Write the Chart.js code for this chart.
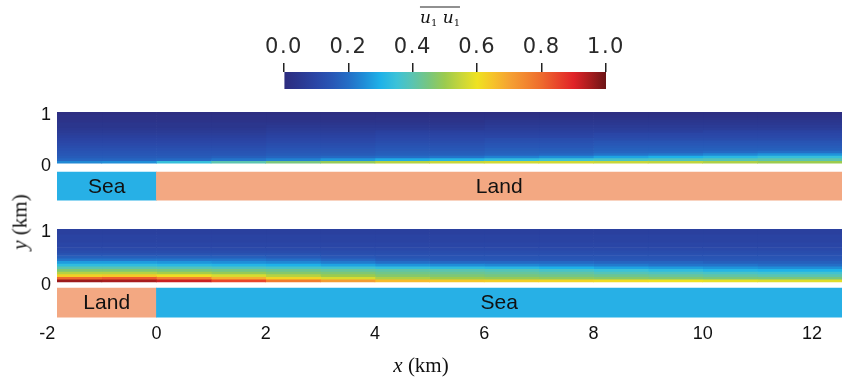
<!DOCTYPE html>
<html>
<head>
<meta charset="utf-8">
<script src="https://cdn.jsdelivr.net/npm/chart.js@4.4.1/dist/chart.umd.min.js"></script>
<style>
  body { margin: 0; background: #fff; width: 842px; height: 382px; position: relative; overflow: hidden; }
  canvas { position: absolute; left: 0; }
  .txt { position: absolute; color: #111; white-space: nowrap; transform: translate(-50%, -50%); }
  #cbar-title { left: 440px; top: 17px; font: italic 17px "DejaVu Serif", "Liberation Serif", serif; line-height: 1; }
  #cbar-title span { display: inline-block; border-top: 1.5px solid #222; padding-top: 1px; }
  #cbar-title sub { font-size: 10px; font-style: normal; vertical-align: -3px; }
  #x-title { left: 421px; top: 365px; font: 21px "Liberation Serif", serif; }
  #y-title { left: 20px; top: 222px; font: 21px "Liberation Serif", serif; transform: translate(-50%, -50%) rotate(-90deg); }
</style>
</head>
<body>
<canvas id="cbar" width="842" height="100" style="top:0"></canvas>
<canvas id="top-panel" width="842" height="109" style="top:95px"></canvas>
<canvas id="bottom-panel" width="842" height="170" style="top:212px"></canvas>
<div class="txt" id="cbar-title"><span>u<sub>1</sub> u<sub>1</sub></span></div>
<div class="txt" id="x-title"><i>x</i> (km)</div>
<div class="txt" id="y-title"><i>y</i> (km)</div>
<script>
// Grid of the field: column edges along x (km) and row centres along y (km)
const xEdges = [-1.82, -1, 0, 1, 2, 3, 4, 5, 6, 7, 8, 9, 10, 11, 12.55];
const yRows = [0.025, 0.075, 0.125, 0.175, 0.225, 0.275, 0.325, 0.375, 0.425, 0.475,
               0.525, 0.575, 0.625, 0.675, 0.725, 0.775, 0.825, 0.875, 0.925, 0.975];

// u1u1 profiles, one per column, from the ground up - sea to land (top panel)
const seaToLand = [
  [0.24, 0.18, 0.16, 0.15, 0.14, 0.13, 0.12, 0.11, 0.10, 0.09, 0.08, 0.07, 0.06, 0.05, 0.04, 0.04, 0.03, 0.02, 0.02, 0.01],
  [0.25, 0.18, 0.16, 0.15, 0.14, 0.13, 0.12, 0.11, 0.10, 0.09, 0.08, 0.07, 0.06, 0.05, 0.04, 0.04, 0.03, 0.02, 0.02, 0.01],
  [0.34, 0.19, 0.16, 0.15, 0.14, 0.13, 0.12, 0.11, 0.10, 0.09, 0.08, 0.07, 0.06, 0.05, 0.04, 0.04, 0.03, 0.02, 0.02, 0.01],
  [0.40, 0.21, 0.17, 0.15, 0.14, 0.13, 0.12, 0.11, 0.10, 0.09, 0.08, 0.07, 0.06, 0.05, 0.04, 0.04, 0.03, 0.02, 0.02, 0.01],
  [0.45, 0.23, 0.18, 0.16, 0.15, 0.14, 0.13, 0.12, 0.11, 0.10, 0.09, 0.08, 0.07, 0.06, 0.05, 0.04, 0.03, 0.02, 0.02, 0.01],
  [0.49, 0.26, 0.19, 0.16, 0.15, 0.14, 0.13, 0.12, 0.11, 0.10, 0.09, 0.08, 0.07, 0.06, 0.05, 0.04, 0.03, 0.02, 0.02, 0.01],
  [0.53, 0.29, 0.20, 0.17, 0.16, 0.15, 0.14, 0.13, 0.12, 0.11, 0.10, 0.09, 0.08, 0.06, 0.05, 0.04, 0.03, 0.03, 0.02, 0.01],
  [0.55, 0.31, 0.21, 0.17, 0.16, 0.15, 0.14, 0.13, 0.12, 0.11, 0.10, 0.09, 0.08, 0.06, 0.05, 0.04, 0.03, 0.03, 0.02, 0.01],
  [0.56, 0.33, 0.23, 0.18, 0.17, 0.16, 0.15, 0.14, 0.13, 0.12, 0.10, 0.09, 0.08, 0.07, 0.06, 0.05, 0.04, 0.03, 0.02, 0.01],
  [0.56, 0.35, 0.25, 0.19, 0.17, 0.16, 0.15, 0.14, 0.13, 0.12, 0.10, 0.09, 0.08, 0.07, 0.06, 0.05, 0.04, 0.03, 0.02, 0.01],
  [0.55, 0.37, 0.28, 0.21, 0.18, 0.17, 0.16, 0.15, 0.14, 0.12, 0.11, 0.10, 0.08, 0.07, 0.06, 0.05, 0.04, 0.03, 0.02, 0.01],
  [0.54, 0.38, 0.30, 0.22, 0.18, 0.17, 0.16, 0.15, 0.14, 0.12, 0.11, 0.10, 0.08, 0.07, 0.06, 0.05, 0.04, 0.03, 0.02, 0.01],
  [0.52, 0.39, 0.32, 0.24, 0.19, 0.17, 0.16, 0.15, 0.14, 0.12, 0.11, 0.10, 0.09, 0.07, 0.06, 0.05, 0.04, 0.03, 0.02, 0.01],
  [0.50, 0.40, 0.34, 0.26, 0.20, 0.17, 0.16, 0.15, 0.14, 0.12, 0.11, 0.10, 0.09, 0.07, 0.06, 0.05, 0.04, 0.03, 0.02, 0.01]
];

// land to sea (bottom panel)
const landToSea = [
  [0.96, 0.80, 0.63, 0.53, 0.46, 0.40, 0.33, 0.27, 0.21, 0.17, 0.14, 0.12, 0.11, 0.10, 0.10, 0.09, 0.09, 0.09, 0.08, 0.08],
  [0.95, 0.82, 0.64, 0.53, 0.46, 0.40, 0.33, 0.27, 0.21, 0.17, 0.14, 0.12, 0.11, 0.10, 0.10, 0.09, 0.09, 0.09, 0.08, 0.08],
  [0.92, 0.76, 0.61, 0.51, 0.45, 0.39, 0.32, 0.26, 0.21, 0.17, 0.14, 0.12, 0.11, 0.10, 0.10, 0.09, 0.09, 0.09, 0.08, 0.08],
  [0.85, 0.68, 0.57, 0.49, 0.44, 0.38, 0.31, 0.25, 0.21, 0.17, 0.14, 0.12, 0.11, 0.10, 0.10, 0.09, 0.09, 0.09, 0.08, 0.08],
  [0.77, 0.62, 0.53, 0.47, 0.43, 0.37, 0.30, 0.24, 0.20, 0.16, 0.14, 0.12, 0.11, 0.10, 0.10, 0.09, 0.09, 0.09, 0.08, 0.08],
  [0.71, 0.57, 0.50, 0.46, 0.42, 0.36, 0.28, 0.22, 0.18, 0.15, 0.13, 0.12, 0.11, 0.10, 0.10, 0.09, 0.09, 0.09, 0.08, 0.08],
  [0.66, 0.52, 0.47, 0.44, 0.41, 0.34, 0.26, 0.20, 0.16, 0.14, 0.13, 0.12, 0.11, 0.10, 0.10, 0.09, 0.09, 0.09, 0.08, 0.08],
  [0.64, 0.50, 0.46, 0.43, 0.40, 0.33, 0.25, 0.19, 0.15, 0.14, 0.13, 0.12, 0.11, 0.10, 0.10, 0.09, 0.09, 0.09, 0.08, 0.08],
  [0.63, 0.49, 0.45, 0.42, 0.39, 0.32, 0.24, 0.19, 0.15, 0.14, 0.13, 0.12, 0.11, 0.10, 0.10, 0.09, 0.09, 0.09, 0.08, 0.08],
  [0.62, 0.48, 0.44, 0.41, 0.37, 0.30, 0.23, 0.19, 0.15, 0.14, 0.13, 0.12, 0.11, 0.10, 0.10, 0.09, 0.09, 0.09, 0.08, 0.08],
  [0.61, 0.47, 0.43, 0.39, 0.35, 0.28, 0.22, 0.18, 0.15, 0.14, 0.13, 0.12, 0.11, 0.10, 0.10, 0.09, 0.09, 0.09, 0.08, 0.08],
  [0.60, 0.46, 0.42, 0.38, 0.33, 0.27, 0.21, 0.18, 0.15, 0.14, 0.13, 0.12, 0.11, 0.10, 0.10, 0.09, 0.09, 0.09, 0.08, 0.08],
  [0.59, 0.45, 0.41, 0.37, 0.31, 0.26, 0.21, 0.17, 0.15, 0.14, 0.13, 0.12, 0.11, 0.10, 0.10, 0.09, 0.09, 0.09, 0.08, 0.08],
  [0.58, 0.45, 0.40, 0.36, 0.30, 0.25, 0.20, 0.17, 0.15, 0.14, 0.13, 0.12, 0.11, 0.10, 0.10, 0.09, 0.09, 0.09, 0.08, 0.08]
];

// surface strips under each panel
const stripRanges = [[-1.82, 0], [0, 12.55]];
const topStripNames = ['Sea', 'Land'];
const bottomStripNames = ['Land', 'Sea'];

// tick labels
const xTicks = [-2, 0, 2, 4, 6, 8, 10, 12];
const yTicks = [0, 1];
const cbarTicks = [0, 0.2, 0.4, 0.6, 0.8, 1.0];

const seaColor = '#27b0e6';
const landColor = '#f3a882';

// colour map of the colour bar
const cmapStops = [
  [0.00, [45, 44, 126]], [0.05, [43, 56, 145]], [0.10, [42, 70, 166]], [0.15, [40, 87, 182]],
  [0.20, [36, 110, 198]], [0.25, [31, 142, 216]], [0.30, [31, 178, 232]], [0.35, [60, 194, 216]],
  [0.40, [91, 196, 176]], [0.45, [120, 198, 126]], [0.50, [156, 203, 78]], [0.55, [200, 214, 58]],
  [0.60, [239, 226, 33]], [0.65, [246, 194, 42]], [0.70, [245, 162, 51]], [0.75, [242, 135, 48]],
  [0.80, [238, 106, 45]], [0.85, [232, 69, 43]], [0.90, [224, 35, 40]], [0.95, [168, 28, 30]],
  [1.00, [107, 20, 22]]
];

function cmap(v) {
  v = Math.min(1, Math.max(0, v));
  for (let i = 1; i < cmapStops.length; i++) {
    if (v <= cmapStops[i][0]) {
      const [p0, c0] = cmapStops[i - 1];
      const [p1, c1] = cmapStops[i];
      const t = (v - p0) / (p1 - p0);
      const c = c0.map((a, k) => Math.round(a + (c1[k] - a) * t));
      return 'rgb(' + c.join(',') + ')';
    }
  }
  return 'rgb(' + cmapStops[cmapStops.length - 1][1].join(',') + ')';
}

const tickFont = { family: '"Liberation Sans", Arial, sans-serif', size: 18 };

function heatSets(profiles) {
  return profiles.map((col, c) => ({
    data: yRows.map(y => ({ y: y, x: [xEdges[c], xEdges[c + 1]] })),
    backgroundColor: col.map(cmap),
    borderWidth: 0,
    barPercentage: 1,
    categoryPercentage: 1,
    grouped: false
  }));
}

const stripLabels = {
  id: 'stripLabels',
  afterDatasetsDraw(chart, args, opts) {
    const meta = chart.getDatasetMeta(chart.data.datasets.length - 1);
    const ctx = chart.ctx;
    ctx.save();
    ctx.font = '21px "Liberation Sans", Arial, sans-serif';
    ctx.fillStyle = '#111';
    ctx.textAlign = 'center';
    ctx.textBaseline = 'middle';
    meta.data.forEach((bar, i) => {
      const p = bar.getCenterPoint();
      ctx.fillText(opts.names[i], p.x, p.y + 1);
    });
    ctx.restore();
  }
};

function panel(id, profiles, names, stripY, stripPx, yMin, showX) {
  const datasets = heatSets(profiles);
  datasets.push({
    data: stripRanges.map(r => ({ y: stripY, x: r })),
    backgroundColor: names.map(n => n === 'Sea' ? seaColor : landColor),
    borderWidth: 0,
    barThickness: stripPx,
    grouped: false
  });
  return new Chart(document.getElementById(id), {
    type: 'bar',
    data: { datasets: datasets },
    plugins: [stripLabels],
    options: {
      indexAxis: 'y',
      responsive: false,
      animation: false,
      layout: { padding: { top: 17, left: 0, right: 0, bottom: 0 } },
      plugins: {
        legend: { display: false },
        tooltip: { enabled: false },
        stripLabels: { names: names }
      },
      scales: {
        x: {
          type: 'linear',
          min: -1.82,
          max: 12.55,
          display: showX,
          grid: { display: false, drawTicks: false },
          border: { display: false },
          afterBuildTicks: s => { s.ticks = xTicks.map(v => ({ value: v })); },
          afterFit: s => { if (showX) s.height = 63; },
          ticks: { autoSkip: false, maxRotation: 0, padding: 4, color: '#111', font: tickFont }
        },
        y: {
          type: 'linear',
          min: yMin,
          max: 1,
          offset: false,
          grid: { display: false, drawTicks: false, offset: false },
          border: { display: false },
          afterBuildTicks: s => { s.ticks = yTicks.map(v => ({ value: v })); },
          afterFit: s => { s.width = 57; s.paddingTop = 0; s.paddingBottom = 0; },
          ticks: { padding: 6, labelOffset: 3, color: '#111', font: tickFont }
        }
      }
    }
  });
}

// top: sea -> land, bottom: land -> sea
panel('top-panel', seaToLand, topStripNames, -0.45, 28, -0.8, false);
panel('bottom-panel', landToSea, bottomStripNames, -0.39, 29, -0.7, true);

// colour bar
new Chart(document.getElementById('cbar'), {
  type: 'bar',
  data: {
    labels: [''],
    datasets: [{
      data: [[0, 1]],
      borderWidth: 0,
      barPercentage: 1,
      categoryPercentage: 1,
      backgroundColor: c => {
        const chart = c.chart;
        if (!chart.chartArea) return null;
        const sx = chart.scales.x;
        const g = chart.ctx.createLinearGradient(sx.getPixelForValue(0), 0, sx.getPixelForValue(1), 0);
        cmapStops.forEach(s => g.addColorStop(s[0], 'rgb(' + s[1].join(',') + ')'));
        return g;
      }
    }]
  },
  plugins: [{
    id: 'wideDigits',
    beforeDraw: chart => { chart.ctx.letterSpacing = '1.5px'; }
  }],
  options: {
    indexAxis: 'y',
    responsive: false,
    animation: false,
    layout: { padding: { left: 284, right: 236, top: 0, bottom: 11 } },
    plugins: { legend: { display: false }, tooltip: { enabled: false } },
    scales: {
      x: {
        type: 'linear',
        position: 'top',
        min: 0,
        max: 1,
        afterBuildTicks: s => { s.ticks = cbarTicks.map(v => ({ value: v })); },
        afterFit: s => { s.height = 72; },
        grid: { display: true, drawOnChartArea: false, drawTicks: true, tickLength: 9, color: '#222', lineWidth: 1.5 },
        border: { display: false },
        ticks: {
          padding: 3,
          color: '#2a2a2a',
          font: { family: '"DejaVu Sans", sans-serif', size: 21 },
          callback: v => v.toFixed(1)
        }
      },
      y: { type: 'category', display: false }
    }
  }
});
</script>
</body>
</html>
